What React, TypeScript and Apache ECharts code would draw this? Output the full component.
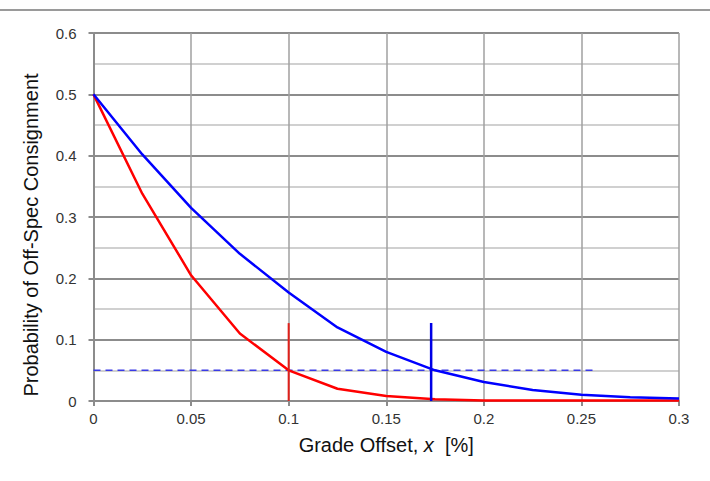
import React, { useEffect, useRef } from "react";
import * as echarts from "echarts";

// Grade offset (%) sampled every 0.025
const gradeOffset = [0, 0.025, 0.05, 0.075, 0.1, 0.125, 0.15, 0.175, 0.2, 0.225, 0.25, 0.275, 0.3];
// Probability of an off-spec consignment for the two sampling cases
const probBlue = [0.5, 0.402, 0.315, 0.24, 0.177, 0.12, 0.08, 0.05, 0.031, 0.018, 0.01, 0.006, 0.004];
const probRed = [0.5, 0.338, 0.205, 0.11, 0.05, 0.02, 0.008, 0.003, 0.001, 0.001, 0.001, 0.001, 0.001];

// Acceptance threshold and the offsets where each curve meets it
const threshold = 0.05;
const thresholdEnd = 0.257;
const redCrossing = 0.1;
const blueCrossing = 0.173;
const markerTop = 0.127;

const xTicks = { min: 0, max: 0.3, interval: 0.05 };
const yTicks = { min: 0, max: 0.6, interval: 0.1 };

const yTitle = "Probability of Off-Spec Consignment";

const fmt = (v: number) => String(Math.round(v * 1000) / 1000);

export default function App() {
  const ref = useRef<HTMLDivElement>(null);

  useEffect(() => {
    if (!ref.current) return;
    const chart = echarts.init(ref.current, null, { renderer: "svg" });
    const font = "'Liberation Sans', Arial, sans-serif";
    chart.setOption({
      animation: false,
      backgroundColor: "#ffffff",
      textStyle: { fontFamily: font },
      grid: { left: 93.5, right: 31, top: 33, bottom: 80 },
      graphic: [
        {
          type: "line",
          shape: { x1: 0, y1: 10, x2: 710, y2: 10 },
          style: { stroke: "#9a9a9a", lineWidth: 2 },
        },
        {
          type: "text",
          x: 31,
          y: 235,
          rotation: Math.PI / 2,
          style: {
            text: yTitle,
            fontSize: 20,
            fontFamily: font,
            fill: "#111",
            textAlign: "center",
            textVerticalAlign: "middle",
          },
        },
      ],
      xAxis: {
        type: "value",
        min: xTicks.min,
        max: xTicks.max,
        interval: xTicks.interval,
        name: "{a|Grade Offset, }{i|x}{a|  [%]}",
        nameLocation: "middle",
        nameGap: 34,
        nameTextStyle: {
          rich: {
            a: { fontSize: 20, color: "#111", fontFamily: font },
            i: { fontSize: 20, color: "#111", fontStyle: "italic", fontFamily: font },
          },
        },
        axisLine: { show: true, lineStyle: { color: "#8c8c8c", width: 2 } },
        axisTick: { show: true, length: 5, lineStyle: { color: "#8c8c8c", width: 2 } },
        axisLabel: { formatter: fmt, fontSize: 15, color: "#333", margin: 10, fontFamily: font },
        splitLine: { show: true, lineStyle: { color: "#a0a0a0", width: 1.5 } },
      },
      yAxis: {
        type: "value",
        min: yTicks.min,
        max: yTicks.max,
        interval: yTicks.interval,
        axisLine: { show: true, lineStyle: { color: "#8c8c8c", width: 2 } },
        axisTick: { show: true, length: 5, lineStyle: { color: "#8c8c8c", width: 2 } },
        axisLabel: { formatter: fmt, fontSize: 15, color: "#333", margin: 17, fontFamily: font },
        splitLine: { show: true, lineStyle: { color: "#8c8c8c", width: 2 } },
        minorTick: { show: false, splitNumber: 2 },
        minorSplitLine: { show: true, lineStyle: { color: "#c0c0c0", width: 1.5 } },
      },
      series: [
        {
          type: "line",
          data: gradeOffset.map((x, i) => [x, probRed[i]]),
          showSymbol: false,
          lineStyle: { color: "#ff0000", width: 2.5 },
          z: 3,
        },
        {
          type: "line",
          data: gradeOffset.map((x, i) => [x, probBlue[i]]),
          showSymbol: false,
          lineStyle: { color: "#0000ff", width: 2.5 },
          z: 4,
        },
        {
          type: "line",
          data: [
            [0, threshold],
            [thresholdEnd, threshold],
          ],
          showSymbol: false,
          lineStyle: { color: "#3a3ae6", width: 1.5, type: [7, 5] },
          z: 2,
        },
        {
          type: "line",
          data: [
            [redCrossing, 0],
            [redCrossing, markerTop],
          ],
          showSymbol: false,
          lineStyle: { color: "#e0201a", width: 2 },
          z: 5,
        },
        {
          type: "line",
          data: [
            [blueCrossing, 0],
            [blueCrossing, markerTop],
          ],
          showSymbol: false,
          lineStyle: { color: "#0000e6", width: 2.5 },
          z: 5,
        },
      ],
    });
    return () => chart.dispose();
  }, []);

  return <div ref={ref} style={{ width: 710, height: 481, position: "absolute", left: 0, top: 0 }} />;
}
